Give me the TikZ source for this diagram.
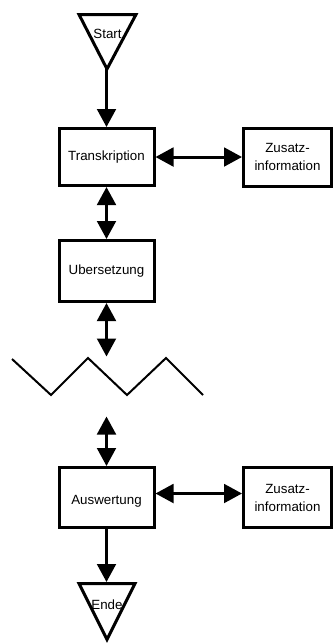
\documentclass[tikz,border=0pt]{standalone}
\usepackage{fontspec}
\setmainfont{Liberation Sans}
\usetikzlibrary{arrows.meta}

\tikzset{every picture/.style={line width=2.25pt}}
\tikzset{box/.style={draw, rectangle, minimum width=71.25pt, inner sep=0.75pt, align=center}}
\tikzset{tip/.style={-{Triangle[length=13.5pt,width=14pt]}}}
\tikzset{tips/.style={{Triangle[length=13.5pt,width=14pt]}-{Triangle[length=13.5pt,width=14pt]}}}

\begin{document}
\begin{tikzpicture}[x=0.75pt,y=0.75pt,yscale=-1,xscale=1]
\useasboundingbox (0,0) rectangle (334,644);

%Shape: Triangle [id:start]
\draw  [line join = miter] (79,14.5) -- (136,14.5) -- (107,69) -- cycle ;
\coordinate (startTip) at (106.5,69) ;
%Shape: Triangle [id:ende]
\draw  [line join = miter] (79,583.5) -- (135,583.5) -- (107,639.5) -- cycle ;
\coordinate (endeTop) at (106.5,582) ;
%Shape: Zig Zag [id:break]
\draw  [line width=1.5pt] (12,359) -- (51,395) -- (88,358) -- (127,395) -- (166,358) -- (203,395) ;
\coordinate (breakTop) at (106.5,356.5) ;
\coordinate (breakBot) at (106.5,416.5) ;

% Text Node
\draw (107.5,34) node [inner sep=0.75pt] (start) {Start};
% Text Node
\draw (107,605) node [inner sep=0.75pt] (ende) {Ende};
%Shape: Rectangle [id:trans]
\draw (106.5,157) node [box, minimum height=42.75pt] (trans) {Transkription};
%Shape: Rectangle [id:ubers]
\draw (106.5,271) node [box, minimum height=45.75pt] (ubers) {Ubersetzung};
%Shape: Rectangle [id:ausw]
\draw (106.5,497.5) node [box, minimum height=45pt, text height=13.2pt, text depth=2.1pt] (ausw) {Auswertung};
%Shape: Rectangle [id:zus1]
\draw (287.5,157) node [box, minimum width=66pt, minimum height=43.5pt] (zus1) {Zusatz-\\[1.5pt]information};
%Shape: Rectangle [id:zus2]
\draw (287.5,497.5) node [box, minimum width=66pt, minimum height=45pt] (zus2) {Zusatz-\\[1.5pt]information};

%Straight Lines [id:a1]
\draw [tip] (startTip) -- (trans) ;
%Straight Lines [id:a2]
\draw [tips] (trans) -- (ubers) ;
%Straight Lines [id:a3]
\draw [tips] (ubers) -- (breakTop) ;
%Straight Lines [id:a4]
\draw [tips] (breakBot) -- (ausw) ;
%Straight Lines [id:a5]
\draw [tip] (ausw) -- (endeTop) ;
%Straight Lines [id:a6]
\draw [tips] (trans) -- (zus1) ;
%Straight Lines [id:a7]
\draw [tips] ([yshift=-3pt]ausw.east) -- ([yshift=-3pt]zus2.west) ;

\end{tikzpicture}
\end{document}
